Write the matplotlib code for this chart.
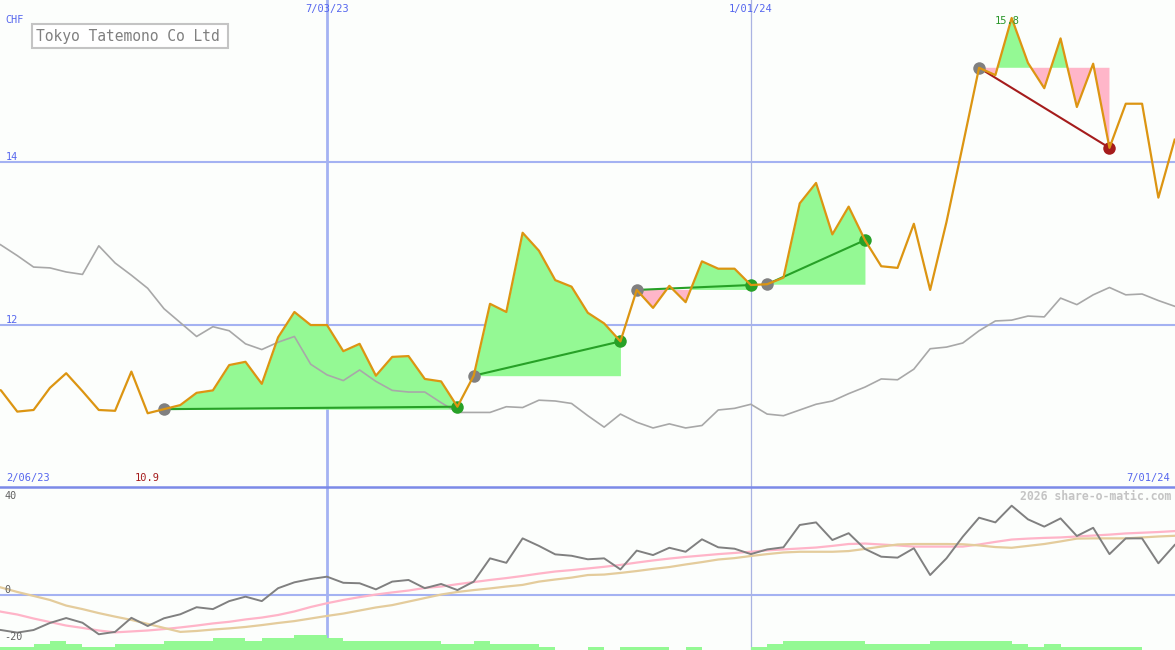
import matplotlib
matplotlib.use("Agg")
import numpy as np
import matplotlib.pyplot as plt
import matplotlib.transforms as mtransforms
from matplotlib.lines import Line2D
from matplotlib.patches import Rectangle

W, H = 1175, 650
SPLIT = 487  # pixel row where the price panel ends

# ---------- data (weekly, week 0 = 6 Feb 2023) ----------
price = [11.25, 11.20, 10.94, 10.96, 11.23, 11.41, 11.19, 10.96, 10.95, 11.43,
         10.92, 10.97, 11.02, 11.17, 11.20, 11.51, 11.55, 11.28, 11.85, 12.16,
         12.00, 12.00, 11.68, 11.77, 11.38, 11.61, 11.62, 11.34, 11.31, 11.00,
         11.38, 12.26, 12.16, 13.13, 12.91, 12.55, 12.47, 12.15, 12.02, 11.80,
         12.43, 12.21, 12.48, 12.28, 12.78, 12.69, 12.69, 12.49, 12.50, 12.58,
         13.49, 13.74, 13.11, 13.45, 13.04, 12.72, 12.70, 13.24, 12.43, 13.26,
         14.20, 15.15, 15.06, 15.76, 15.21, 14.90, 15.51, 14.67, 15.20, 14.17,
         14.71, 14.71, 13.56, 14.27]

bench = [13.09, 12.98, 12.85, 12.71, 12.70, 12.65, 12.62, 12.97, 12.76, 12.61,
         12.45, 12.20, 12.03, 11.86, 11.98, 11.93, 11.77, 11.70, 11.79, 11.86,
         11.52, 11.39, 11.32, 11.45, 11.31, 11.20, 11.18, 11.18, 11.05, 10.93,
         10.93, 10.93, 11.00, 10.99, 11.08, 11.07, 11.04, 10.89, 10.75, 10.91,
         10.81, 10.74, 10.79, 10.74, 10.77, 10.96, 10.98, 11.03, 10.91, 10.89,
         10.96, 11.03, 11.07, 11.16, 11.24, 11.34, 11.33, 11.46, 11.71, 11.73,
         11.78, 11.93, 12.05, 12.06, 12.11, 12.10, 12.33, 12.25, 12.37, 12.46,
         12.37, 12.38, 12.30, 12.23]

momentum = [-14.0, -14.9, -16.0, -14.9, -11.9, -9.8, -11.8, -16.7, -15.7, -9.7,
            -13.2, -9.9, -8.2, -5.2, -6.0, -2.6, -0.7, -2.6, 2.9, 5.4,
            6.8, 7.8, 5.2, 5.0, 2.4, 5.7, 6.4, 2.9, 4.7, 2.1,
            5.7, 15.6, 13.7, 24.1, 20.9, 17.3, 16.7, 15.2, 15.6, 10.9,
            18.9, 17.0, 20.1, 18.4, 23.7, 20.3, 19.7, 17.4, 19.4, 20.3,
            29.8, 30.9, 23.4, 26.3, 19.6, 16.3, 15.9, 19.9, 8.5, 15.6,
            24.8, 32.9, 30.9, 38.0, 32.2, 29.1, 32.6, 25.1, 28.6, 17.4,
            24.1, 24.1, 13.5, 21.3]

avg_fast = [-5.5, -7.1, -8.3, -10.0, -11.5, -13.0, -14.0, -15.1, -15.9, -15.5,
            -15.1, -14.5, -13.8, -13.0, -12.1, -11.4, -10.4, -9.6, -8.5, -7.0,
            -5.1, -3.5, -2.1, -0.9, 0.2, 1.1, 1.9, 3.0, 3.6, 4.6,
            5.5, 6.4, 7.2, 8.1, 9.1, 10.0, 10.6, 11.3, 12.0, 12.8,
            13.8, 14.7, 15.5, 16.2, 16.8, 17.4, 17.9, 18.4, 19.0, 19.4,
            19.8, 20.2, 20.9, 21.7, 21.9, 21.5, 21.1, 20.6, 20.6, 20.6,
            20.6, 21.5, 22.6, 23.6, 24.0, 24.3, 24.5, 24.9, 25.3, 25.7,
            26.2, 26.5, 26.8, 27.2]

avg_slow = [5.1, 3.2, 1.3, -0.4, -2.1, -4.5, -6.0, -7.7, -9.2, -10.6,
            -12.3, -14.0, -15.7, -15.3, -14.7, -14.2, -13.6, -12.8, -11.9, -11.1,
            -10.0, -8.9, -7.9, -6.6, -5.3, -4.3, -2.8, -1.3, 0.2, 1.3,
            2.1, 2.8, 3.6, 4.3, 5.7, 6.6, 7.4, 8.5, 8.7, 9.4,
            10.2, 11.1, 11.9, 13.0, 14.0, 15.1, 15.7, 16.6, 17.4, 18.1,
            18.4, 18.4, 18.4, 18.7, 19.6, 20.6, 21.5, 21.7, 21.7, 21.7,
            21.6, 21.1, 20.4, 20.1, 20.9, 21.7, 22.8, 24.0, 24.1, 24.1,
            24.1, 24.5, 24.9, 25.2]

volume = [1, 1, 1, 2, 3, 2, 1, 1, 2, 2,
          2, 3, 3, 3, 4, 4, 3, 4, 4, 5,
          5, 4, 3, 3, 3, 3, 3, 3, 2, 2,
          3, 2, 2, 2, 1, 0, 0, 1, 0, 1,
          1, 1, 0, 1, 0, 0, 0, 1, 2, 3,
          3, 3, 3, 3, 2, 2, 2, 2, 3, 3,
          3, 3, 3, 2, 1, 2, 1, 1, 1, 1,
          1, 0, 0, 0]

entries = [11, 30, 40, 48, 61]
exits = [29, 39, 47, 54, 69]

price_grid = [14, 12]
osc_grid = [40, 0, -20]
date_weeks = [21, 47]
date_labels = ["7/03/23", "1/01/24"]
start_label, end_label = "2/06/23", "7/01/24"
title = "Tokyo Tatemono Co Ltd"

# ---------- style ----------
BG = "#fcfefc"
GRID = "#a4b2f2"
TXT_BLUE = "#5566ee"
ORANGE = "#dc9512"
FILL_UP = "#94f994"
FILL_DN = "#ffb6c9"
WIN = "#27a127"
LOSS = "#a51c1c"
MONO = "DejaVu Sans Mono"

x = np.arange(len(price))
p = np.array(price)

fig = plt.figure(figsize=(W / 100, H / 100), dpi=100, facecolor=BG)
ax = fig.add_axes([0, (H - SPLIT) / H, 1, SPLIT / H])
axl = fig.add_axes([0, 0, 1, (H - SPLIT) / H])
for a in (ax, axl):
    a.set_facecolor(BG)
    a.set_xlim(0.94, 73.02)
    a.set_xticks([])
    a.set_yticks([])
    for s in a.spines.values():
        s.set_visible(False)
ax.set_ylim(10.017, 15.98)
axl.set_ylim(-23.4, 45.96)

# grid
for v in price_grid:
    ax.axhline(v, color=GRID, lw=1.5, zorder=0.5)
axl.axhline(0, color=GRID, lw=1.5, zorder=0.5)
for a in (ax, axl):
    a.axvline(date_weeks[0], color=GRID, lw=2.0, zorder=0.5)
    a.axvline(date_weeks[1], color="#aab3e2", lw=0.9, zorder=0.5)

# trades
for e, q in zip(entries, exits):
    xs = x[e:q + 1]
    ps = p[e:q + 1]
    base = p[e]
    ax.fill_between(xs, ps, base, where=ps >= base, interpolate=True,
                    color=FILL_UP, lw=0, zorder=1)
    ax.fill_between(xs, ps, base, where=ps <= base, interpolate=True,
                    color=FILL_DN, lw=0, zorder=1)
    col = WIN if p[q] >= base else LOSS
    ax.plot([e, q], [base, p[q]], color=col, lw=1.5, zorder=3)
    ax.plot(e, base, "o", color="#808080", ms=9, mec="none", zorder=4)
    ax.plot(q, p[q], "o", color=col, ms=9, mec="none", zorder=4)

ax.plot(x, bench, color="#a8a8a8", lw=1.2, zorder=2)
ax.plot(x, p, color=ORANGE, lw=1.6, zorder=5)

# lower panel
axl.plot(x, avg_fast, color="#ffb4c8", lw=1.6, zorder=2)
axl.plot(x, avg_slow, color="#e4cc9c", lw=1.6, zorder=2)
axl.plot(x, momentum, color="#808080", lw=1.4, zorder=3)

axv = axl.twinx()
axv.set_ylim(0, 163 / 3.1)
axv.set_yticks([])
for s in axv.spines.values():
    s.set_visible(False)
axv.bar(x, volume, width=1.0, align="edge", color=FILL_UP, lw=0)

# panel separator
fig.add_artist(Line2D([0, 1], [1 - SPLIT / H] * 2, transform=fig.transFigure,
                      color="#7b8ae8", lw=1.8))

# ---------- text ----------
tr_y = mtransforms.blended_transform_factory(ax.transAxes, ax.transData)
tr_x = mtransforms.blended_transform_factory(ax.transData, ax.transAxes)
trl_y = mtransforms.blended_transform_factory(axl.transAxes, axl.transData)

ax.text(0.005, 1 - 20 / SPLIT, "CHF", transform=ax.transAxes, fontsize=7.3,
        color=TXT_BLUE, family=MONO, va="center")
for v in price_grid:
    ax.text(0.005, v, f"{v}", transform=tr_y, fontsize=7.3, color=TXT_BLUE,
            family=MONO, va="bottom")
for w, lbl in zip(date_weeks, date_labels):
    ax.text(w, 1 - 9 / SPLIT, lbl, transform=tr_x, fontsize=7.5,
            color=TXT_BLUE, family=MONO, ha="center", va="center")

ax.text(0.005, 9 / SPLIT, start_label, transform=ax.transAxes, fontsize=7.5,
        color=TXT_BLUE, family=MONO, va="center")
ax.text(0.996, 9 / SPLIT, end_label, transform=ax.transAxes, fontsize=7.5,
        color=TXT_BLUE, family=MONO, va="center", ha="right")

imax, imin = int(np.argmax(p)), int(np.argmin(p))
ax.annotate(f"{p[imax]:.1f}", (imax, p[imax]), xytext=(-4, -3),
            textcoords="offset pixels", fontsize=7.5, color="#2a962a",
            family=MONO, ha="center", va="center", zorder=6)
ax.text(imin, 9 / SPLIT, f"{p[imin]:.1f}", transform=tr_x, fontsize=7.5,
        color=LOSS, family=MONO, ha="center", va="center")

fig.patches.append(Rectangle((32 / W, 1 - 48 / H), 196 / W, 24 / H,
                             transform=fig.transFigure, fc="white",
                             ec="#c4c4c4", lw=1.5, zorder=10))
fig.text(36 / W, 1 - 36 / H, title, fontsize=10.5, color="#808080",
         family=MONO, va="center", zorder=11)

for v in osc_grid:
    axl.text(0.004, v, f"{v}", transform=trl_y, fontsize=7.3, color="#606060",
             family=MONO, va="bottom")
axl.text(0.997, 1 - 9 / (H - SPLIT), "2026 share-o-matic.com",
         transform=axl.transAxes, fontsize=8.3, color="#c4c4c4",
         family=MONO, weight="bold", ha="right", va="center")

fig.savefig("out.png", dpi=100, facecolor=BG)
